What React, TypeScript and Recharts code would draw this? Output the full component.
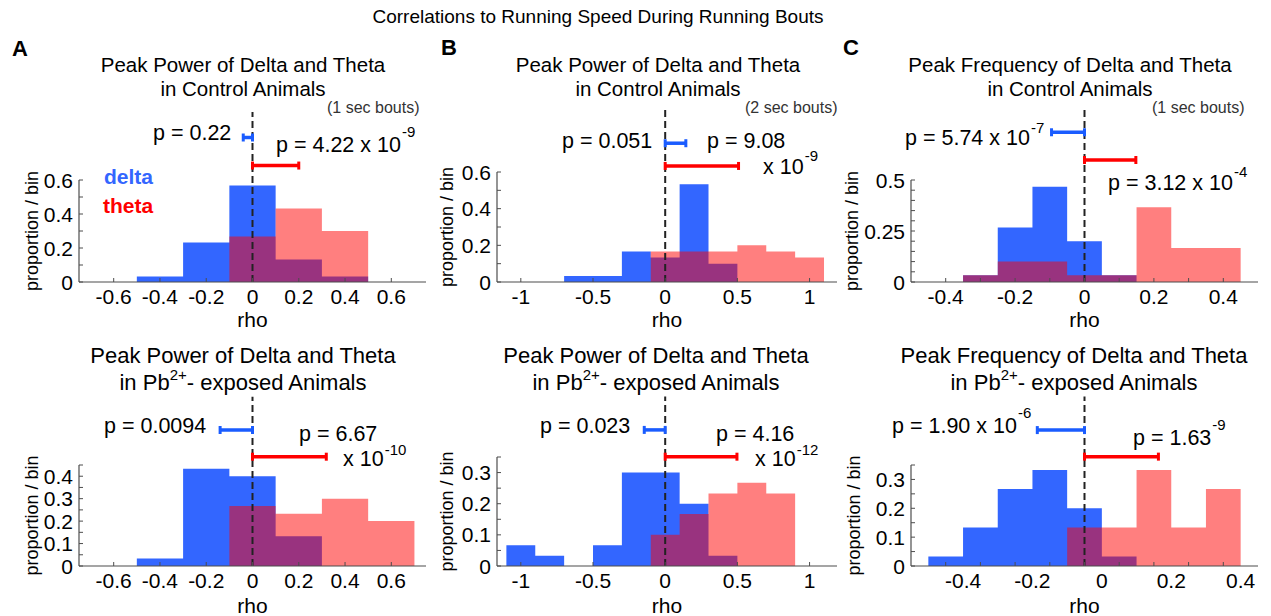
import { Area, ComposedChart, ReferenceLine, XAxis, YAxis } from 'recharts';

const FONT = '"Liberation Sans", Arial, Helvetica, sans-serif';
const BLUE = '#3366ff';
const RED = '#ff0000';
const AXIS = '#4d4d4d';

// histogram bin edges (rho) and proportion of sessions per bin
const edgesA1 = [-0.5, -0.3, -0.1, 0.1, 0.3, 0.5];
const deltaA1 = [0.033, 0.233, 0.567, 0.133, 0.033];
const thetaA1 = [0, 0, 0.267, 0.433, 0.3];

const edgesB1 = [-0.7, -0.5, -0.3, -0.1, 0.1, 0.3, 0.5, 0.7, 0.9, 1.1];
const deltaB1 = [0.033, 0.033, 0.167, 0.133, 0.533, 0.1, 0, 0, 0];
const thetaB1 = [0, 0, 0, 0.167, 0.167, 0.167, 0.2, 0.167, 0.133];

const edgesC1 = [-0.35, -0.25, -0.15, -0.05, 0.05, 0.15, 0.25, 0.35, 0.45];
const deltaC1 = [0.033, 0.267, 0.467, 0.2, 0.033, 0, 0, 0];
const thetaC1 = [0.033, 0.1, 0.1, 0.033, 0.033, 0.367, 0.167, 0.167];

const edgesA2 = [-0.5, -0.3, -0.1, 0.1, 0.3, 0.5, 0.7];
const deltaA2 = [0.033, 0.433, 0.4, 0.133, 0, 0];
const thetaA2 = [0, 0, 0.267, 0.233, 0.3, 0.2];

const edgesB2 = [-1.1, -0.9, -0.7, -0.5, -0.3, -0.1, 0.1, 0.3, 0.5, 0.7, 0.9];
const deltaB2 = [0.067, 0.033, 0, 0.067, 0.3, 0.3, 0.2, 0.033, 0, 0];
const thetaB2 = [0, 0, 0, 0, 0, 0.1, 0.167, 0.233, 0.267, 0.233];

const edgesC2 = [-0.5, -0.4, -0.3, -0.2, -0.1, 0, 0.1, 0.2, 0.3, 0.4];
const deltaC2 = [0.033, 0.133, 0.267, 0.333, 0.2, 0.033, 0, 0, 0];
const thetaC2 = [0, 0, 0, 0, 0.133, 0.133, 0.333, 0.133, 0.267];

// mean rho intervals (from reference rho to mean) for delta and theta
const rhoDeltaA1 = [-0.04, 0];
const rhoThetaA1 = [0, 0.2];
const rhoDeltaB1 = [0, 0.143];
const rhoThetaB1 = [0, 0.508];
const rhoDeltaC1 = [-0.095, 0];
const rhoThetaC1 = [0, 0.148];
const rhoDeltaA2 = [-0.14, 0];
const rhoThetaA2 = [0, 0.319];
const rhoDeltaB2 = [-0.145, 0];
const rhoThetaB2 = [0, 0.497];
const rhoDeltaC2 = [-0.186, -0.05];
const rhoThetaC2 = [-0.05, 0.163];

// axis ticks: labelled values and tick marks
const xLabelsA = [-0.6, -0.4, -0.2, 0, 0.2, 0.4, 0.6];
const xLabelsB = [-1, -0.5, 0, 0.5, 1];
const xLabelsC = [-0.4, -0.2, 0, 0.2, 0.4];
const xMarksC1 = [-0.4, -0.3, -0.2, -0.1, 0, 0.1, 0.2, 0.3, 0.4];
const xMarksC2 = [-0.45, -0.35, -0.25, -0.15, -0.05, 0.05, 0.15, 0.25, 0.35];
const yLabelsTop = [0, 0.2, 0.4, 0.6];
const yMarksTop = [0, 0.1, 0.2, 0.3, 0.4, 0.5, 0.6];
const yLabelsC1 = [0, 0.25, 0.5];
const yMarksC1 = [0, 0.05, 0.1, 0.15, 0.2, 0.25, 0.3, 0.35, 0.4, 0.45, 0.5];
const yLabelsA2 = [0, 0.1, 0.2, 0.3, 0.4];
const yMarksA2 = [0, 0.05, 0.1, 0.15, 0.2, 0.25, 0.3, 0.35, 0.4, 0.45];
const yLabelsLow = [0, 0.1, 0.2, 0.3];
const yMarksLow = [0, 0.05, 0.1, 0.15, 0.2, 0.25, 0.3, 0.35];

const YW = 70;
const XH = 50;
const MT = 90;
const RM = 8;

type Panel = {
  id: string;
  left: number;
  top: number;
  width: number;
  height: number;
  xDomain: [number, number];
  yDomain: [number, number];
  xLabels: number[];
  xMarks: number[];
  yLabels: number[];
  yMarks: number[];
  edges: number[];
  delta: number[];
  theta: number[];
  rhoDelta: number[];
  rhoTheta: number[];
  refX: number;
  deltaBarY: number;
  thetaBarY: number;
  dashTop: number;
  yLabelOffset: number;
  rhoOffset: number;
};

const panels: Panel[] = [
  {
    id: 'A1', left: 79, top: 180, width: 347, height: 102,
    xDomain: [-0.75, 0.75], yDomain: [0, 0.6],
    xLabels: xLabelsA, xMarks: xLabelsA, yLabels: yLabelsTop, yMarks: yMarksTop,
    edges: edgesA1, delta: deltaA1, theta: thetaA1,
    rhoDelta: rhoDeltaA1, rhoTheta: rhoThetaA1, refX: 0,
    deltaBarY: 0.85, thetaBarY: 0.685, dashTop: 1.0, yLabelOffset: 23, rhoOffset: 5,
  },
  {
    id: 'B1', left: 497, top: 172, width: 340, height: 110,
    xDomain: [-1.165, 1.19], yDomain: [0, 0.6],
    xLabels: xLabelsB, xMarks: xLabelsB, yLabels: yLabelsTop, yMarks: yMarksTop,
    edges: edgesB1, delta: deltaB1, theta: thetaB1,
    rhoDelta: rhoDeltaB1, rhoTheta: rhoThetaB1, refX: 0,
    deltaBarY: 0.757, thetaBarY: 0.633, dashTop: 0.938, yLabelOffset: 20, rhoOffset: 5,
  },
  {
    id: 'C1', left: 911, top: 180, width: 347, height: 102,
    xDomain: [-0.5, 0.5], yDomain: [0, 0.5],
    xLabels: xLabelsC, xMarks: xMarksC1, yLabels: yLabelsC1, yMarks: yMarksC1,
    edges: edgesC1, delta: deltaC1, theta: thetaC1,
    rhoDelta: rhoDeltaC1, rhoTheta: rhoThetaC1, refX: 0,
    deltaBarY: 0.734, thetaBarY: 0.598, dashTop: 0.843, yLabelOffset: 11, rhoOffset: 5,
  },
  {
    id: 'A2', left: 79, top: 465, width: 347, height: 101,
    xDomain: [-0.75, 0.75], yDomain: [0, 0.45],
    xLabels: xLabelsA, xMarks: xLabelsA, yLabels: yLabelsA2, yMarks: yMarksA2,
    edges: edgesA2, delta: deltaA2, theta: thetaA2,
    rhoDelta: rhoDeltaA2, rhoTheta: rhoThetaA2, refX: 0,
    deltaBarY: 0.606, thetaBarY: 0.487, dashTop: 0.754, yLabelOffset: 23, rhoOffset: 3,
  },
  {
    id: 'B2', left: 497, top: 457, width: 340, height: 109,
    xDomain: [-1.165, 1.19], yDomain: [0, 0.35],
    xLabels: xLabelsB, xMarks: xLabelsB, yLabels: yLabelsLow, yMarks: yMarksLow,
    edges: edgesB2, delta: deltaB2, theta: thetaB2,
    rhoDelta: rhoDeltaB2, rhoTheta: rhoThetaB2, refX: 0,
    deltaBarY: 0.437, thetaBarY: 0.351, dashTop: 0.544, yLabelOffset: 20, rhoOffset: 3,
  },
  {
    id: 'C2', left: 911, top: 465, width: 347, height: 101,
    xDomain: [-0.55, 0.45], yDomain: [0, 0.35],
    xLabels: xLabelsC, xMarks: xMarksC2, yLabels: yLabelsLow, yMarks: yMarksLow,
    edges: edgesC2, delta: deltaC2, theta: thetaC2,
    rhoDelta: rhoDeltaC2, rhoTheta: rhoThetaC2, refX: -0.05,
    deltaBarY: 0.471, thetaBarY: 0.379, dashTop: 0.587, yLabelOffset: 13, rhoOffset: 3,
  },
];

const has = (arr: number[], v: number) => arr.some((a) => Math.abs(a - v) < 1e-6);
const fmt = (v: number) => (Math.abs(v) < 1e-9 ? '0' : String(v));

// MATLAB-style ticks: short marks pointing into the plot, labels only on majors
const XTick = (props: any, labels: number[], marks: number[]) => {
  const { x, y, payload } = props;
  const v = payload.value;
  return (
    <g>
      {has(marks, v) && <line x1={x} x2={x} y1={y} y2={y - 4} stroke={AXIS} strokeWidth={1} />}
      {has(labels, v) && (
        <text x={x} y={y + 22} textAnchor="middle" fontSize={21} fill="#000" fontFamily={FONT}>
          {fmt(v)}
        </text>
      )}
    </g>
  );
};

const YTick = (props: any, labels: number[], marks: number[]) => {
  const { x, y, payload } = props;
  const v = payload.value;
  return (
    <g>
      {has(marks, v) && <line x1={x} x2={x + 4} y1={y} y2={y} stroke={AXIS} strokeWidth={1} />}
      {has(labels, v) && (
        <text x={x - 6} y={y} dy="0.36em" textAnchor="end" fontSize={21} fill="#000" fontFamily={FONT}>
          {fmt(v)}
        </text>
      )}
    </g>
  );
};

const errorBar = (color: string) => (p: any) => (
  <g>
    <line x1={p.x1} y1={p.y1} x2={p.x2} y2={p.y2} stroke={color} strokeWidth={3.5} />
    <line x1={p.x1} y1={p.y1 - 4} x2={p.x1} y2={p.y1 + 4} stroke={color} strokeWidth={3} />
    <line x1={p.x2} y1={p.y2 - 4} x2={p.x2} y2={p.y2 + 4} stroke={color} strokeWidth={3} />
  </g>
);

const HistPanel = ({ p }: { p: Panel }) => {
  const last = p.delta.length - 1;
  const rows = p.edges.map((x, i) => ({
    x,
    delta: p.delta[Math.min(i, last)],
    theta: p.theta[Math.min(i, last)],
  }));
  const xTicks = Array.from(new Set([...p.xLabels, ...p.xMarks])).sort((a, b) => a - b);
  const yTicks = Array.from(new Set([...p.yLabels, ...p.yMarks])).sort((a, b) => a - b);

  return (
    <div style={{ position: 'absolute', left: p.left - YW, top: p.top - MT }}>
      <ComposedChart
        width={YW + p.width + RM}
        height={MT + p.height + XH}
        data={rows}
        margin={{ top: MT, right: RM, bottom: 0, left: 0 }}
      >
        <XAxis
          type="number"
          dataKey="x"
          domain={p.xDomain}
          allowDataOverflow
          ticks={xTicks}
          interval={0}
          height={XH}
          tickSize={0}
          tickMargin={0}
          axisLine={{ stroke: AXIS, strokeWidth: 1.2 }}
          tickLine={false}
          tick={(t: any) => XTick(t, p.xLabels, p.xMarks)}
          label={{
            value: 'rho',
            position: 'insideBottom',
            offset: p.rhoOffset,
            fontSize: 21,
            fill: '#000',
            fontFamily: FONT,
          }}
        />
        <YAxis
          type="number"
          domain={p.yDomain}
          allowDataOverflow
          ticks={yTicks}
          interval={0}
          width={YW}
          tickSize={0}
          tickMargin={0}
          axisLine={{ stroke: AXIS, strokeWidth: 1.2 }}
          tickLine={false}
          tick={(t: any) => YTick(t, p.yLabels, p.yMarks)}
          label={{
            value: 'proportion / bin',
            angle: -90,
            position: 'insideLeft',
            offset: p.yLabelOffset,
            fontSize: 18,
            fill: '#000',
            fontFamily: FONT,
            style: { textAnchor: 'middle' },
          }}
        />
        <Area
          type="stepAfter"
          dataKey="delta"
          fill={BLUE}
          fillOpacity={1}
          stroke="none"
          isAnimationActive={false}
        />
        <Area
          type="stepAfter"
          dataKey="theta"
          fill={RED}
          fillOpacity={0.5}
          stroke="none"
          isAnimationActive={false}
        />
        <ReferenceLine
          segment={[{ x: p.refX, y: 0 }, { x: p.refX, y: p.dashTop }]}
          ifOverflow="visible"
          stroke="#222"
          strokeWidth={2}
          strokeDasharray="7 4"
        />
        <ReferenceLine
          segment={[{ x: p.rhoDelta[0], y: p.deltaBarY }, { x: p.rhoDelta[1], y: p.deltaBarY }]}
          ifOverflow="visible"
          shape={errorBar('#1a5cff')}
        />
        <ReferenceLine
          segment={[{ x: p.rhoTheta[0], y: p.thetaBarY }, { x: p.rhoTheta[1], y: p.thetaBarY }]}
          ifOverflow="visible"
          shape={errorBar(RED)}
        />
      </ComposedChart>
    </div>
  );
};

// p-value annotation with an optional raised exponent
const PText = ({
  x,
  y,
  text,
  exp,
  rise = 14,
}: {
  x: number;
  y: number;
  text: string;
  exp?: string;
  rise?: number;
}) => (
  <text x={x} y={y} fontSize={21.5} fill="#000">
    {text}
    {exp && (
      <tspan fontSize={15} dx={1} dy={-rise}>
        {exp}
      </tspan>
    )}
  </text>
);

const TitleTop = ({ cx, kind }: { cx: number; kind: string }) => (
  <g fontSize={20.5} textAnchor="middle" fill="#000">
    <text x={cx} y={72}>{`Peak ${kind} of Delta and Theta`}</text>
    <text x={cx} y={96}>in Control Animals</text>
  </g>
);

const TitleBottom = ({ cx, kind }: { cx: number; kind: string }) => (
  <g fontSize={22} textAnchor="middle" fill="#000">
    <text x={cx} y={363}>{`Peak ${kind} of Delta and Theta`}</text>
    <text x={cx} y={390}>
      in Pb
      <tspan fontSize={15} dy={-10}>2+</tspan>
      <tspan dy={10}>- exposed Animals</tspan>
    </text>
  </g>
);

export default function App() {
  return (
    <div
      style={{
        position: 'absolute',
        left: 0,
        top: 0,
        width: 1271,
        height: 616,
        background: '#fff',
        overflow: 'hidden',
        fontFamily: FONT,
      }}
    >
      {panels.map((p) => (
        <HistPanel key={p.id} p={p} />
      ))}
      <svg
        width={1271}
        height={616}
        style={{ position: 'absolute', left: 0, top: 0, pointerEvents: 'none' }}
        fontFamily={FONT}
      >
        <text x={598} y={23} fontSize={19} textAnchor="middle" fill="#000">
          Correlations to Running Speed During Running Bouts
        </text>

        <g fontSize={22} fontWeight="bold" fill="#000">
          <text x={12} y={56}>A</text>
          <text x={441} y={55}>B</text>
          <text x={843} y={55}>C</text>
        </g>

        <TitleTop cx={243} kind="Power" />
        <TitleTop cx={658} kind="Power" />
        <TitleTop cx={1070} kind="Frequency" />
        <TitleBottom cx={243} kind="Power" />
        <TitleBottom cx={656} kind="Power" />
        <TitleBottom cx={1074} kind="Frequency" />

        <g fontSize={16} fill="#333">
          <text x={327} y={113}>(1 sec bouts)</text>
          <text x={745} y={113}>(2 sec bouts)</text>
          <text x={1152} y={113}>(1 sec bouts)</text>
        </g>

        <g fontSize={21} fontWeight="bold">
          <text x={104} y={184} fill={BLUE}>delta</text>
          <text x={103} y={213} fill={RED}>theta</text>
        </g>

        <PText x={153} y={140} text="p = 0.22" />
        <PText x={276} y={152} text="p = 4.22 x 10" exp="-9" rise={15} />
        <PText x={562} y={148} text="p = 0.051" />
        <PText x={707} y={148} text="p = 9.08" />
        <PText x={763} y={174} text="x 10" exp="-9" rise={13} />
        <PText x={905} y={145} text="p = 5.74 x 10" exp="-7" rise={12} />
        <PText x={1108} y={190} text="p = 3.12 x 10" exp="-4" rise={13} />

        <PText x={104} y={433} text="p = 0.0094" />
        <PText x={299} y={441} text="p = 6.67" />
        <PText x={343} y={466} text="x 10" exp="-10" rise={11} />
        <PText x={540} y={433} text="p = 0.023" />
        <PText x={716} y={441} text="p = 4.16" />
        <PText x={755} y={466} text="x 10" exp="-12" rise={11} />
        <PText x={892} y={433} text="p = 1.90 x 10" exp="-6" rise={15} />
        <PText x={1133} y={445} text="p = 1.63" exp="-9" rise={15} />
      </svg>
    </div>
  );
}
